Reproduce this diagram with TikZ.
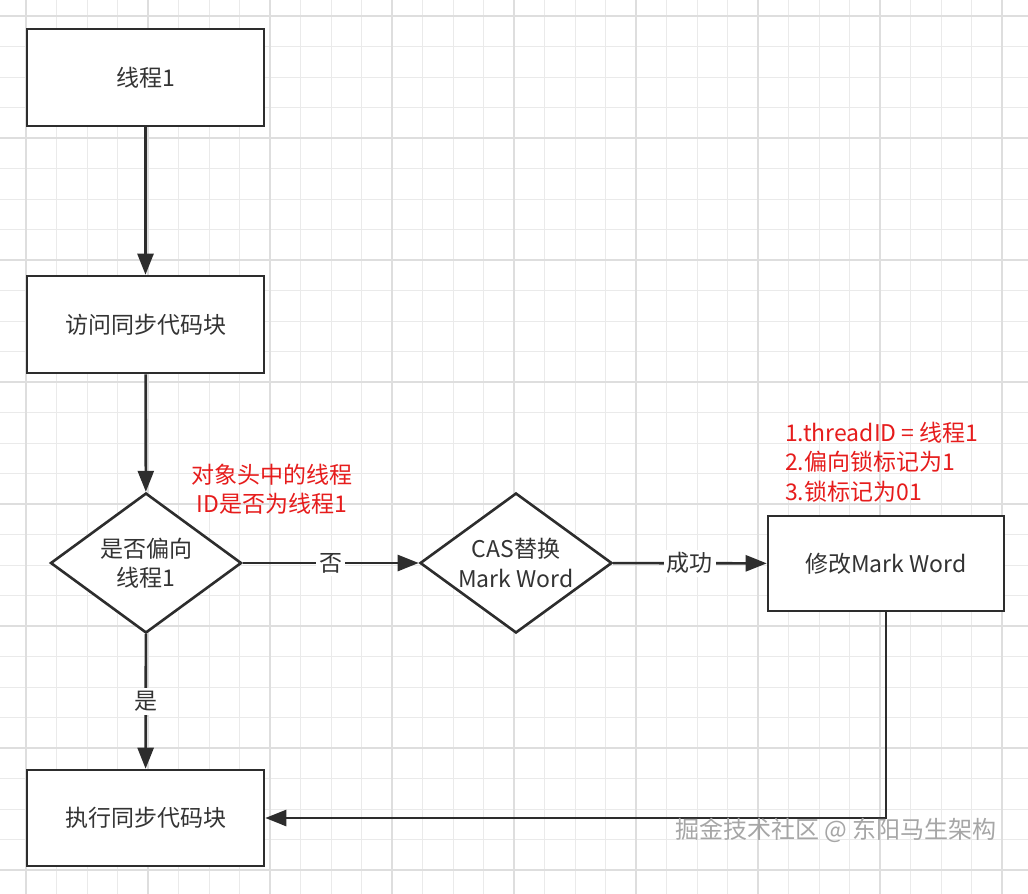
\documentclass[tikz,border=0pt]{standalone}
\usepackage{fontspec}
\setmainfont{Noto Sans CJK SC}
\usetikzlibrary{arrows.meta, positioning, shapes.geometric}
\definecolor{linegray}{RGB}{45,45,45}
\definecolor{textgray}{RGB}{51,51,51}
\definecolor{notered}{RGB}{230,28,28}
\definecolor{minorgrid}{RGB}{234,234,234}
\definecolor{majorgrid}{RGB}{222,222,222}

\begin{document}
\begin{tikzpicture}[x=1pt, y=-1pt,
    box/.style={rectangle, draw=linegray, line width=2.6pt, fill=white, minimum width=237pt, minimum height=97pt, align=center, text=textgray, font=\fontsize{23}{29.5}\selectfont},
    decision/.style={diamond, aspect=1.36, draw=linegray, line width=2.6pt, fill=white, inner sep=0pt, minimum width=191pt, minimum height=140pt, align=center, text=textgray, font=\fontsize{23}{29.5}\selectfont},
    note/.style={inner sep=0pt, text=notered, font=\fontsize{23}{29.5}\selectfont},
    lbl/.style={fill=white, inner sep=3pt, text=textgray, font=\fontsize{23}{29.5}\selectfont},
    arrow/.style={-{Triangle[length=21pt, width=16pt]}, line width=2.6pt, draw=linegray}
]
    % background grid
    \fill[white] (0,0) rectangle (1028,894);
    \useasboundingbox (0,0) rectangle (1028,894);
    \foreach \i in {-1,...,33} \draw[minorgrid, line width=1pt] ({26+30.5*\i},0) -- ({26+30.5*\i},894);
    \foreach \i in {-1,...,28} \draw[minorgrid, line width=1pt] (0,{16+30.5*\i}) -- (1028,{16+30.5*\i});
    \foreach \i in {0,...,8} \draw[majorgrid, line width=1.6pt] ({26+122*\i},0) -- ({26+122*\i},894);
    \foreach \i in {0,...,7} \draw[majorgrid, line width=1.6pt] (0,{16+122*\i}) -- (1028,{16+122*\i});

    \node[box] (thread) at (145.5,77.5) {线程1};
    \node[box] (access) at (145.5,324.5) {访问同步代码块};
    \node[decision] (biased) at (146,563) {是否偏向\\线程1};
    \node[decision, minimum width=192pt] (cas) at (516,563) {CAS替换\\Mark Word};
    \node[box, minimum width=236pt, minimum height=95pt] (modify) at (886,563.5) {修改Mark Word};
    \node[box, minimum height=96pt] (run) at (145.5,818) {执行同步代码块};

    \node[note, align=center] (checknote) at (272,489) {对象头中的线程\\ID是否为线程1};
    \node[note, align=left, anchor=west] (setnote) at (785,462) {1.threadID = 线程1\\2.偏向锁标记为1\\3.锁标记为01};

    \draw[arrow] (thread) -- (access);
    \draw[arrow] (access) -- (biased);
    \draw[arrow] (biased) -- node[lbl] {否} (cas);
    \draw[arrow] (cas) -- node[lbl] {成功} (modify);
    \draw[arrow] (biased) -- node[lbl] {是} (run);
    \draw[arrow] (modify.south) |- (run.east);

    % watermark
    \node[text=gray!70, font=\fontsize{24}{28}\selectfont] (mark) at (836,830) {掘金技术社区 @ 东阳马生架构};
\end{tikzpicture}
\end{document}
